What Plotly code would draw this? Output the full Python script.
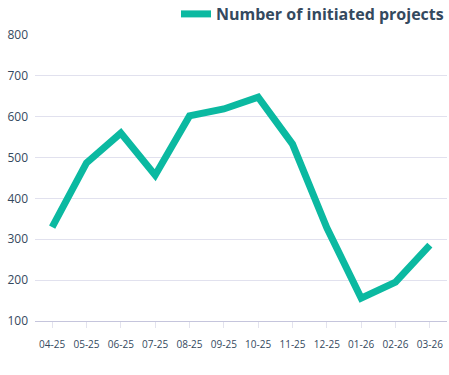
import plotly.graph_objects as go

months = ["04-25", "05-25", "06-25", "07-25", "08-25", "09-25",
          "10-25", "11-25", "12-25", "01-26", "02-26", "03-26"]
projects = [330, 487, 560, 457, 602, 619, 648, 533, 328, 156, 195, 286]
y_ticks = [100, 200, 300, 400, 500, 600, 700, 800]

fig = go.Figure()
fig.add_trace(go.Scatter(
    x=months, y=projects, mode="lines", name="Number of initiated projects",
    line=dict(color="#0bb9a1", width=7),
))

fig.update_layout(
    width=449, height=375,
    margin=dict(l=35, r=2, t=35, b=54, autoexpand=False),
    plot_bgcolor="white", paper_bgcolor="white",
    font=dict(family="Open Sans", color="#34495e"),
    showlegend=True,
    legend=dict(xref="container", yref="container",
                x=1.0, xanchor="right", y=1 - 14 / 375, yanchor="middle",
                font=dict(size=16, color="#34495e", family="Open Sans", weight="bold"),
                bgcolor="rgba(0,0,0,0)", itemwidth=30,
                borderwidth=0, tracegroupgap=0),
    xaxis=dict(
        type="category", range=[-0.5, 11.5],
        showgrid=False, showline=True, linecolor="#c5c5dc", linewidth=1,
        ticks="outside", ticklen=6, tickcolor="#e3e3ee", tickwidth=1,
        tickfont=dict(size=10, color="#34495e"), ticklabelstandoff=8,
    ),
    yaxis=dict(
        range=[100, 800], tickvals=y_ticks,
        showgrid=True, gridcolor="#e1e1ee", gridwidth=1,
        zeroline=False, showline=False,
        tickfont=dict(size=12, color="#34495e"), ticklabelstandoff=6,
    ),
)

fig.write_html("out.html")
